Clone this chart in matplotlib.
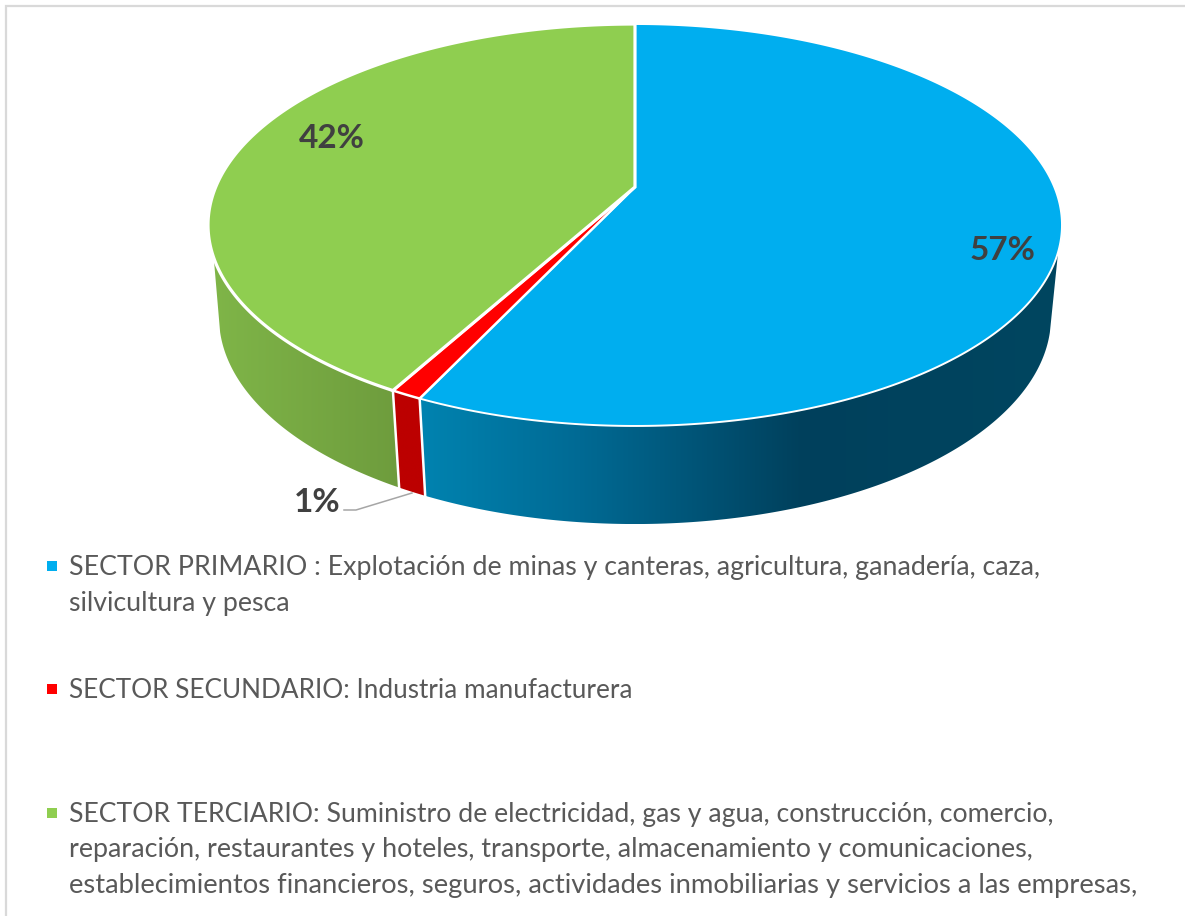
#!/usr/bin/env python3
"""Pastel 3D de sectores, dibujado a mano con una proyeccion en perspectiva"""

import numpy as np
import matplotlib
matplotlib.use("Agg")
import matplotlib.pyplot as plt
from matplotlib.colors import LinearSegmentedColormap
from matplotlib.patches import Polygon

# datos
sectors = ["SECTOR PRIMARIO", "SECTOR SECUNDARIO", "SECTOR TERCIARIO"]
values = [57, 1, 42]
top_colors = ["#00AEEF", "#FF0000", "#8FCE50"]

legend_lines = [
    ["SECTOR PRIMARIO : Explotación de minas y canteras, agricultura, ganadería, caza,",
     "silvicultura y pesca"],
    ["SECTOR SECUNDARIO: Industria manufacturera"],
    ["SECTOR TERCIARIO: Suministro de electricidad, gas y agua, construcción, comercio,",
     "reparación, restaurantes y hoteles, transporte, almacenamiento y comunicaciones,",
     "establecimientos financieros, seguros, actividades inmobiliarias y servicios a las empresas,"],
]

W, H = 1185, 916
CX = 635
PERSP = 0.189
TEXT_GREY = "#595959"
LABEL_GREY = "#404040"


def project(theta, d, a, b):
    """Grados desde arriba, en sentido horario -> pixeles"""
    t = np.radians(theta)
    u, v = np.sin(t), np.cos(t)
    den = 1 + PERSP * v
    return CX + d * u / den, (a * v + b) / den


def top_ring(theta):
    return project(theta, 419.3, -158.46, 187)


def bottom_ring(theta):
    return project(theta, 408.5, -147, 278)


def side_polygon(start, end, bottom_start, bottom_end):
    xt, yt = top_ring(np.linspace(start, end, 200))
    xb, yb = bottom_ring(np.linspace(bottom_end, bottom_start, 200))
    return np.column_stack([np.r_[xt, xb], np.r_[yt, yb]])


fig = plt.figure(figsize=(W / 100, H / 100), dpi=100)
ax = fig.add_axes([0, 0, 1, 1])
ax.set_xlim(0, W)
ax.set_ylim(H, 0)
ax.axis("off")

# marco del grafico
ax.plot([6, 6, W], [H, 6, 6], color="#D9D9D9", lw=1.6, solid_joinstyle="miter")

edges = np.r_[0, np.cumsum(values)] / np.sum(values) * 360

# cara lateral: arriba se ve entre SIDE_*, abajo hasta la tangente BOTTOM_*
SIDE_FROM, SIDE_TO = 108.4, 250
BOTTOM_FROM, BOTTOM_TO = 105, 255
side_maps = [
    LinearSegmentedColormap.from_list(
        "b", [(0, "#0083B0"), (0.25, "#006A94"), (0.6, "#00405C"), (1, "#004660")]),
    LinearSegmentedColormap.from_list("r", ["#BC0000", "#BC0000"]),
    LinearSegmentedColormap.from_list("g", ["#7FB548", "#6E9C3D"]),
]
for i in range(len(values)):
    pts = side_polygon(max(edges[i], SIDE_FROM), min(edges[i + 1], SIDE_TO),
                       max(edges[i], BOTTOM_FROM), min(edges[i + 1], BOTTOM_TO))
    poly = Polygon(pts, closed=True, fc="none", ec="none")
    ax.add_patch(poly)
    grad = np.linspace(0, 1, 256).reshape(1, -1)
    im = ax.imshow(grad, extent=[pts[:, 0].min(), pts[:, 0].max(), pts[:, 1].max(), pts[:, 1].min()],
                   cmap=side_maps[i], aspect="auto", zorder=1)
    im.set_clip_path(poly)
ax.set_xlim(0, W)
ax.set_ylim(H, 0)

# separaciones blancas del lateral
for e in edges[1:-1]:
    xt, yt = top_ring(e)
    xb, yb = bottom_ring(e)
    ax.plot([xt, xb], [yt, yb], color="white", lw=1.8, zorder=2)

# cara superior, el verde lleva el borde blanco mas grueso
top_lw = [1.4, 1.8, 2.3]
for i, col in enumerate(top_colors):
    th = np.linspace(edges[i], edges[i + 1], 300)
    x, y = top_ring(th)
    pts = np.column_stack([np.r_[CX, x], np.r_[187, y]])
    ax.add_patch(Polygon(pts, closed=True, fc=col, ec="white", lw=top_lw[i],
                         joinstyle="miter", zorder=3))

# etiquetas
label_pos = [(1002, 250), (317, 502), (332, 138)]
for v, (lx, ly) in zip(values, label_pos):
    ax.text(lx, ly, f"{v}%", ha="center", va="center", family="Lato",
            fontweight="bold", fontsize=24, color=LABEL_GREY, zorder=5)

# linea guia del 1%
ax.plot([344, 356, 412], [510, 510, 493], color="#A6A6A6", lw=1.1, zorder=2)

# leyenda, cada linea ajustada al ancho del original
marker_y = [566, 689, 813]
baselines = [[575, 611], [698], [822, 857, 893]]
line_sizes = [[19.3, 19.3], [18.8], [19.2, 19.35, 19.75]]
for col, my, lines, ys, sizes in zip(top_colors, marker_y, legend_lines, baselines, line_sizes):
    ax.add_patch(Polygon([(47, my - 5), (57, my - 5), (57, my + 5), (47, my + 5)],
                         closed=True, fc=col, ec="none"))
    for line, y, fs in zip(lines, ys, sizes):
        ax.text(69, y, line, ha="left", va="baseline", family="Lato",
                fontsize=fs, color=TEXT_GREY)

fig.savefig("out.png", dpi=100, facecolor="white")
